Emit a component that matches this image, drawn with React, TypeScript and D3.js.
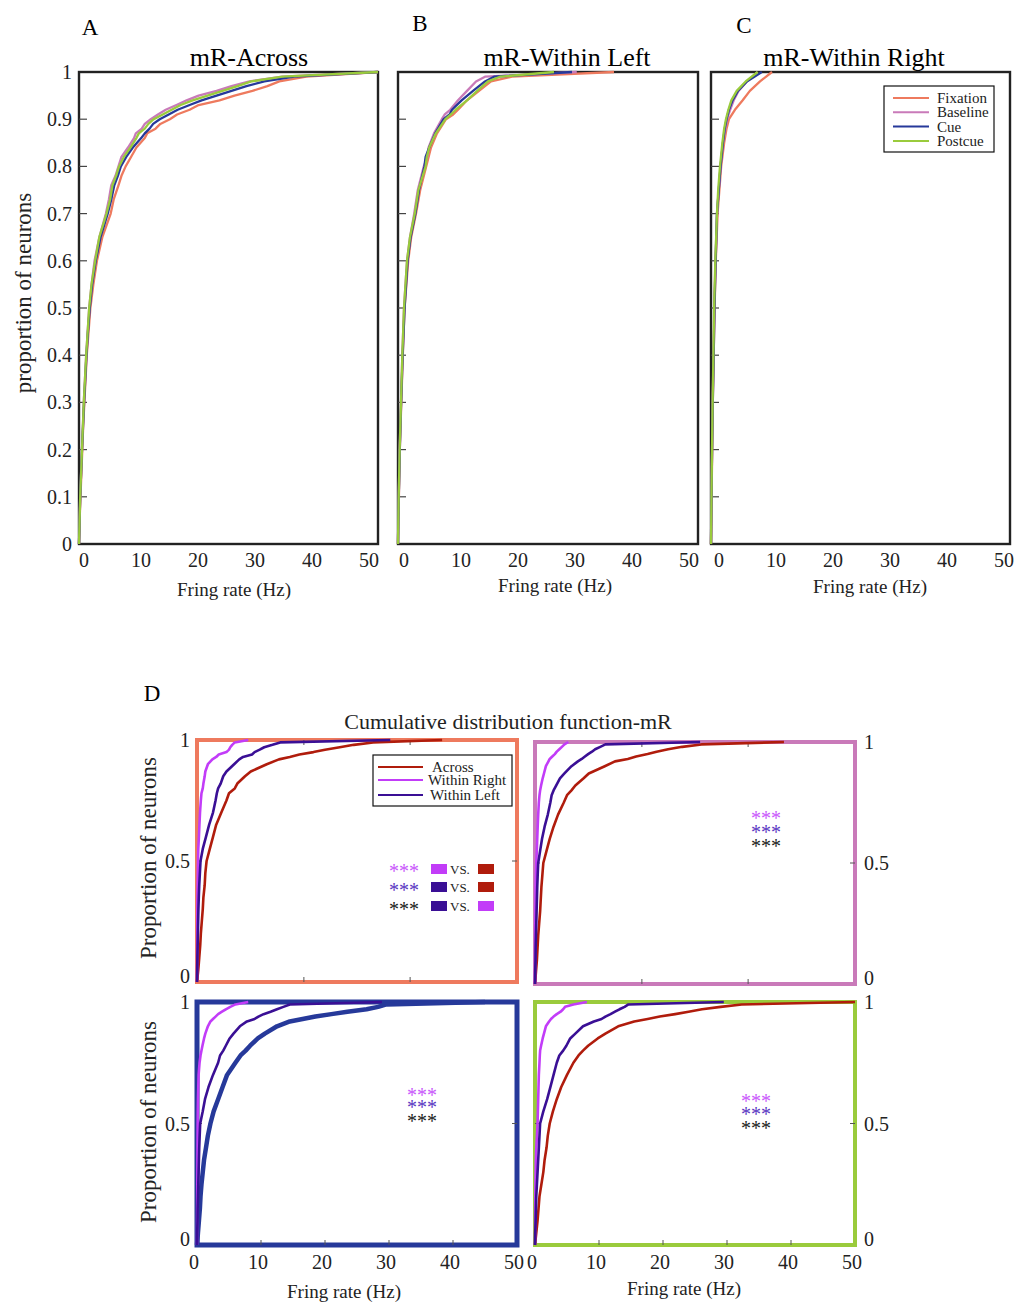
import React from 'react';
import * as d3 from 'd3';

// ---------- shared labels ----------
const rateTicks = [0, 10, 20, 30, 40, 50];
const propTicks = [0, 0.1, 0.2, 0.3, 0.4, 0.5, 0.6, 0.7, 0.8, 0.9, 1];
const propTickLabels = ['0', '0.1', '0.2', '0.3', '0.4', '0.5', '0.6', '0.7', '0.8', '0.9', '1'];
const epochNames = ['Fixation', 'Baseline', 'Cue', 'Postcue'];
const epochColors = ['#ee7a5e', '#c97ab9', '#26399a', '#9acb3c'];
const groupNames = ['Across', 'Within Right', 'Within Left'];
const groupColors = ['#b01c0c', '#c23cf8', '#3a0f95'];
const dPropTicks = [0, 0.5, 1];
const dPropTickLabels = ['0', '0.5', '1'];
const dTopRowTicks = [16.7, 33.3];
const dBottomRowTicks = [10, 20, 30, 40];

// ---------- panel A: mR-Across (rate values at cumulative proportions) ----------
const probsA = [0, 0.05, 0.1, 0.15, 0.2, 0.25, 0.3, 0.35, 0.4, 0.45, 0.5, 0.55, 0.6, 0.65, 0.7, 0.73, 0.76, 0.78, 0.8, 0.82, 0.84, 0.86, 0.87, 0.88, 0.89, 0.9, 0.91, 0.92, 0.93, 0.94, 0.95, 0.96, 0.97, 0.98, 0.99, 1];
const acrossFixation = [0, 0.1, 0.25, 0.4, 0.55, 0.7, 0.9, 1.1, 1.3, 1.6, 1.9, 2.4, 3.0, 3.9, 5.3, 5.8, 6.6, 7.1, 7.8, 8.7, 9.6, 11.0, 11.4, 12.8, 13.6, 15.2, 16.4, 18.5, 20.0, 23.5, 26.0, 29.0, 31.5, 33.5, 38, 50];
const acrossBaseline = [0, 0.1, 0.2, 0.35, 0.5, 0.65, 0.8, 1.0, 1.2, 1.45, 1.7, 2.1, 2.6, 3.4, 4.5, 5.0, 5.4, 6.1, 6.6, 7.1, 8.2, 9.2, 9.5, 10.5, 11.0, 12.0, 13.2, 14.5, 16.3, 18.0, 20.0, 23.0, 25.5, 28.5, 34, 50];
const acrossCue = [0, 0.1, 0.2, 0.35, 0.5, 0.68, 0.85, 1.05, 1.25, 1.5, 1.8, 2.2, 2.8, 3.6, 4.8, 5.4, 5.9, 6.5, 7.0, 7.9, 9.0, 10.4, 11.0, 11.8, 12.4, 13.5, 15.0, 16.5, 18.5, 20.5, 23.0, 25.5, 28.0, 31.0, 36, 50];
const acrossPostcue = [0, 0.1, 0.2, 0.35, 0.5, 0.65, 0.8, 1.0, 1.2, 1.45, 1.7, 2.1, 2.7, 3.4, 4.6, 5.2, 5.6, 6.2, 6.7, 7.5, 8.6, 9.6, 10.0, 11.0, 11.6, 12.5, 14.0, 15.5, 17.0, 19.0, 21.5, 24.0, 26.5, 28.8, 34, 50];

// ---------- panel B: mR-Within Left ----------
const probsB = [0, 0.05, 0.1, 0.2, 0.3, 0.4, 0.5, 0.6, 0.65, 0.7, 0.75, 0.8, 0.82, 0.84, 0.87, 0.9, 0.91, 0.92, 0.94, 0.96, 0.98, 0.99, 1];
const leftFixation = [0, 0.05, 0.15, 0.3, 0.55, 0.8, 1.1, 1.7, 2.2, 3.0, 3.7, 4.7, 5.1, 5.5, 6.5, 8.0, 9.2, 10, 11.5, 13.5, 15.5, 19, 36];
const leftBaseline = [0, 0.05, 0.12, 0.28, 0.5, 0.72, 1.0, 1.5, 2.0, 2.7, 3.3, 4.3, 4.9, 5.1, 6.0, 7.3, 7.8, 8.7, 10, 11.5, 13.0, 14.5, 29.8];
const leftCue = [0, 0.05, 0.13, 0.3, 0.52, 0.78, 1.1, 1.6, 2.1, 2.9, 3.5, 4.4, 4.6, 5.2, 6.2, 7.6, 8.6, 9.0, 10.6, 12.5, 14.5, 16, 29];
const leftPostcue = [0, 0.05, 0.12, 0.28, 0.5, 0.72, 1.0, 1.5, 2.0, 2.8, 3.4, 4.6, 4.8, 5.2, 6.3, 7.9, 8.8, 9.6, 11.5, 13.2, 15.0, 17.0, 26];

// ---------- panel C: mR-Within Right ----------
const probsC = [0, 0.1, 0.2, 0.3, 0.4, 0.5, 0.6, 0.7, 0.75, 0.8, 0.85, 0.88, 0.9, 0.92, 0.94, 0.96, 0.98, 1];
const rightFixation = [0, 0.1, 0.2, 0.3, 0.45, 0.6, 0.8, 1.1, 1.4, 1.7, 2.2, 2.6, 3.0, 4.0, 5.3, 6.5, 8.2, 10.2];
const rightBaseline = [0, 0.08, 0.18, 0.28, 0.42, 0.55, 0.75, 1.0, 1.3, 1.6, 2.0, 2.4, 2.7, 3.2, 3.8, 4.6, 6.0, 7.8];
const rightCue = [0, 0.08, 0.18, 0.3, 0.45, 0.58, 0.78, 1.0, 1.3, 1.6, 2.0, 2.3, 2.6, 3.0, 3.6, 4.5, 6.0, 8.5];
const rightPostcue = [0, 0.08, 0.17, 0.27, 0.4, 0.52, 0.72, 1.0, 1.2, 1.5, 1.9, 2.2, 2.5, 2.9, 3.4, 4.3, 5.8, 7.8];

// ---------- panel D: per epoch, Across / Within Right / Within Left ----------
const probsD = [0, 0.05, 0.1, 0.15, 0.2, 0.25, 0.3, 0.35, 0.4, 0.45, 0.5, 0.55, 0.6, 0.65, 0.7, 0.75, 0.78, 0.8, 0.82, 0.85, 0.87, 0.9, 0.92, 0.93, 0.94, 0.95, 0.96, 0.97, 0.98, 0.99, 1];
const dFixAcross = [0, 0.2, 0.35, 0.5, 0.6, 0.75, 0.9, 1.0, 1.2, 1.3, 1.5, 2.0, 2.5, 3.0, 3.8, 4.6, 5.0, 5.9, 6.3, 7.5, 8.4, 10.9, 12.8, 14.5, 16.0, 18.2, 20.0, 22.3, 24.5, 27.5, 38.3];
const dFixRight = [0, 0.01, 0.02, 0.03, 0.04, 0.05, 0.06, 0.08, 0.1, 0.13, 0.16, 0.2, 0.3, 0.38, 0.47, 0.6, 0.7, 0.9, 1.0, 1.2, 1.3, 1.7, 2.4, 3.0, 3.4, 4.6, 5.0, 5.2, 5.5, 5.9, 8.0];
const dFixLeft = [0, 0.03, 0.06, 0.1, 0.14, 0.18, 0.22, 0.28, 0.35, 0.45, 0.55, 0.9, 1.4, 1.9, 2.5, 2.9, 3.1, 3.3, 3.7, 4.1, 4.6, 5.8, 6.6, 7.2, 8.6, 9.0, 9.8, 10.5, 11.8, 13, 30.2];
const dBaseAcross = [0, 0.15, 0.3, 0.4, 0.5, 0.65, 0.8, 0.9, 1.0, 1.15, 1.3, 1.8, 2.3, 2.9, 3.6, 4.5, 5.0, 5.7, 6.3, 7.6, 8.4, 10.9, 12.5, 14.5, 15.8, 17.6, 19.0, 20.8, 23.0, 26, 38.9];
const dBaseRight = [0, 0.01, 0.02, 0.03, 0.04, 0.05, 0.07, 0.09, 0.1, 0.15, 0.2, 0.28, 0.35, 0.42, 0.5, 0.6, 0.7, 0.8, 0.95, 1.2, 1.4, 1.7, 2.1, 2.3, 2.7, 3.1, 3.4, 3.8, 4.2, 4.6, 5.2];
const dBaseLeft = [0, 0.03, 0.08, 0.1, 0.15, 0.2, 0.25, 0.3, 0.35, 0.42, 0.5, 0.8, 1.1, 1.5, 2.0, 2.4, 2.6, 2.9, 3.3, 3.9, 4.6, 5.7, 6.7, 7.3, 7.8, 8.3, 8.9, 9.4, 10.2, 11, 25.8];
const dCueAcross = [0, 0.15, 0.3, 0.45, 0.55, 0.7, 0.9, 1.1, 1.4, 1.7, 2.1, 2.6, 3.3, 4.0, 4.7, 6.0, 6.8, 7.6, 8.3, 9.5, 10.6, 12.5, 14.5, 16.5, 18.5, 21, 23.5, 26.5, 28.3, 29.6, 45];
const dCueRight = [0, 0.01, 0.02, 0.03, 0.04, 0.05, 0.06, 0.07, 0.08, 0.09, 0.1, 0.12, 0.15, 0.2, 0.25, 0.4, 0.55, 0.7, 0.85, 1.1, 1.3, 1.7, 2.1, 2.5, 2.9, 3.3, 3.9, 4.5, 5.2, 6.0, 8.0];
const dCueLeft = [0, 0.03, 0.08, 0.1, 0.15, 0.2, 0.25, 0.3, 0.35, 0.42, 0.5, 0.9, 1.25, 1.8, 2.5, 3.3, 3.6, 4.1, 4.5, 5.1, 5.7, 6.7, 7.8, 9.0, 9.6, 10.4, 11.5, 12.5, 13.5, 14.5, 28.9];
const dPostAcross = [0, 0.2, 0.4, 0.55, 0.7, 1.0, 1.3, 1.5, 1.8, 2.0, 2.3, 2.8, 3.4, 4.1, 5.0, 6.0, 6.8, 7.5, 8.3, 9.8, 11.0, 13, 15.5, 17.6, 19.5, 21.9, 24, 26.1, 29, 32.3, 50];
const dPostRight = [0, 0.01, 0.02, 0.03, 0.05, 0.07, 0.1, 0.13, 0.2, 0.3, 0.4, 0.45, 0.5, 0.55, 0.6, 0.7, 0.75, 0.8, 0.95, 1.2, 1.4, 1.7, 2.2, 2.5, 2.9, 3.4, 4.0, 4.4, 4.7, 6.0, 8.1];
const dPostLeft = [0, 0.03, 0.1, 0.15, 0.2, 0.3, 0.4, 0.5, 0.6, 0.7, 0.8, 1.3, 1.9, 2.4, 2.9, 3.4, 3.8, 4.4, 4.9, 5.5, 6.3, 7.5, 9.2, 10.4, 11.0, 11.8, 12.5, 13.2, 14.0, 14.6, 29.5];

const FONT = "'Liberation Serif', 'Times New Roman', serif";

type TopProps = {
  left: number; right: number; top: number; bottom: number;
  title: string; titleX: number; letter: string; letterX: number; letterY: number;
  probs: number[]; series: number[][];
  labelLeft: number; labelRight: number; xTitleX: number; xTitleY: number;
  yLabels?: boolean; legend?: boolean;
};

function TopPanel(p: TopProps) {
  const x = d3.scaleLinear().domain([0, 50]).range([p.left, p.right]);
  const xl = d3.scaleLinear().domain([0, 50]).range([p.labelLeft, p.labelRight]);
  const y = d3.scaleLinear().domain([0, 1]).range([p.bottom, p.top]);
  const line = d3.line<[number, number]>().x(d => x(d[0])).y(d => y(d[1]));
  return (
    <g>
      <text x={p.letterX} y={p.letterY} fontSize={23} textAnchor="middle" fontFamily={FONT}>{p.letter}</text>
      <text x={p.titleX} y={p.top - 6} fontSize={26} textAnchor="middle" fontFamily={FONT}>{p.title}</text>
      <rect x={p.left} y={p.top} width={p.right - p.left} height={p.bottom - p.top} fill="none" stroke="#222" strokeWidth={2.4} />
      {propTicks.slice(1, -1).map(t => (
        <line key={t} x1={p.left} x2={p.left + 8} y1={y(t)} y2={y(t)} stroke="#444" strokeWidth={1.2} />
      ))}
      {p.yLabels && propTicks.map((t, i) => (
        <text key={t} x={p.left - 7} y={y(t) + 7} fontSize={20} textAnchor="end" fontFamily={FONT} fill="#222">{propTickLabels[i]}</text>
      ))}
      {rateTicks.map(t => (
        <text key={t} x={xl(t)} y={p.bottom + 23} fontSize={20} textAnchor="middle" fontFamily={FONT} fill="#222">{t}</text>
      ))}
      <text x={p.xTitleX} y={p.xTitleY} fontSize={19} textAnchor="middle" fontFamily={FONT} fill="#222">Fring rate (Hz)</text>
      {p.series.map((s, i) => (
        <path key={i} d={line(s.map((r, j) => [r, p.probs[j]] as [number, number])) || ''} fill="none" stroke={epochColors[i]} strokeWidth={2.3} strokeLinejoin="round" />
      ))}
      {p.legend && (
        <g>
          <rect x={884} y={86} width={110} height={66} fill="white" stroke="#111" strokeWidth={1.2} />
          {epochNames.map((n, i) => {
            const yy = 98 + i * 14.3;
            return (
              <g key={n}>
                <line x1={893} x2={929} y1={yy} y2={yy} stroke={epochColors[i]} strokeWidth={2} />
                <text x={937} y={yy + 5} fontSize={15} fontFamily={FONT} fill="#222">{n}</text>
              </g>
            );
          })}
        </g>
      )}
    </g>
  );
}

type DProps = {
  left: number; right: number; top: number; bottom: number;
  frameColor: string; frameWidth: number;
  series: number[][]; colors: string[]; widths: number[];
  yLabelSide: 'left' | 'right'; xTicks: number[]; xLabels: boolean;
  starX: number; starY: number[];
};

const starColors = ['#c858fb', '#5a36c2', '#1a1a1a'];

function DPanel(p: DProps) {
  const x = d3.scaleLinear().domain([0, 50]).range([p.left, p.right]);
  const y = d3.scaleLinear().domain([0, 1]).range([p.bottom, p.top]);
  const line = d3.line<[number, number]>().x(d => x(d[0])).y(d => y(d[1]));
  return (
    <g>
      <rect x={p.left} y={p.top} width={p.right - p.left} height={p.bottom - p.top} fill="none" stroke={p.frameColor} strokeWidth={p.frameWidth} />
      {p.xTicks.map(t => (
        <g key={t}>
          <line x1={x(t)} x2={x(t)} y1={p.bottom} y2={p.bottom - 5} stroke="#555" strokeWidth={1} />
          {!p.xLabels && <line x1={x(t)} x2={x(t)} y1={p.top} y2={p.top + 5} stroke="#555" strokeWidth={1} />}
        </g>
      ))}
      <line x1={p.left} x2={p.left + 5} y1={y(0.5)} y2={y(0.5)} stroke="#555" strokeWidth={1} />
      <line x1={p.right} x2={p.right - 5} y1={y(0.5)} y2={y(0.5)} stroke="#555" strokeWidth={1} />
      {dPropTicks.map((t, i) => (
        <text key={t}
          x={p.yLabelSide === 'left' ? p.left - 7 : p.right + 9}
          y={y(t) + 7 - (t === 0 ? 6 : 0)}
          fontSize={20} textAnchor={p.yLabelSide === 'left' ? 'end' : 'start'} fontFamily={FONT} fill="#222">{dPropTickLabels[i]}</text>
      ))}
      {p.xLabels && rateTicks.map(t => (
        <text key={t} x={x(t) - 3} y={p.bottom + 24} fontSize={20} textAnchor="middle" fontFamily={FONT} fill="#222">{t}</text>
      ))}
      {p.series.map((s, i) => (
        <path key={i} d={line(s.map((r, j) => [r, probsD[j]] as [number, number])) || ''} fill="none" stroke={p.colors[i]} strokeWidth={p.widths[i]} strokeLinejoin="round" />
      ))}
      {p.starY.map((sy, i) => (
        <text key={i} x={p.starX} y={sy + 10} fontSize={20} textAnchor="middle" fontFamily={FONT} fill={starColors[i]}>***</text>
      ))}
    </g>
  );
}

export default function App() {
  const sigRows = [
    { a: groupColors[1], b: groupColors[0] },
    { a: groupColors[2], b: groupColors[0] },
    { a: groupColors[2], b: groupColors[1] },
  ];
  return (
    <svg width={1017} height={1302} style={{ position: 'absolute', left: 0, top: 0, background: 'white' }}>
      <rect x={0} y={0} width={1017} height={1302} fill="white" />
      <TopPanel left={79} right={378} top={72} bottom={544} title="mR-Across" titleX={249} letter="A" letterX={90} letterY={35}
        probs={probsA} series={[acrossFixation, acrossBaseline, acrossCue, acrossPostcue]}
        labelLeft={84} labelRight={369} xTitleX={234} xTitleY={596} yLabels />
      <TopPanel left={398} right={698} top={72} bottom={544} title="mR-Within Left" titleX={567} letter="B" letterX={420} letterY={31}
        probs={probsB} series={[leftFixation, leftBaseline, leftCue, leftPostcue]}
        labelLeft={404} labelRight={689} xTitleX={555} xTitleY={592} />
      <TopPanel left={711} right={1010} top={72} bottom={544} title="mR-Within Right" titleX={854} letter="C" letterX={744} letterY={33}
        probs={probsC} series={[rightFixation, rightBaseline, rightCue, rightPostcue]}
        labelLeft={719} labelRight={1004} xTitleX={870} xTitleY={593} legend />
      <text transform="translate(31,293) rotate(-90)" fontSize={23} textAnchor="middle" fontFamily={FONT} fill="#222">proportion of neurons</text>

      {/* Panel D */}
      <text x={152} y={701} fontSize={23} textAnchor="middle" fontFamily={FONT}>D</text>
      <text x={508} y={729} fontSize={22} textAnchor="middle" fontFamily={FONT} fill="#222">Cumulative distribution function-mR</text>
      <text transform="translate(156,858) rotate(-90)" fontSize={23} textAnchor="middle" fontFamily={FONT} fill="#222">Proportion of neurons</text>
      <text transform="translate(156,1122) rotate(-90)" fontSize={23} textAnchor="middle" fontFamily={FONT} fill="#222">Proportion of neurons</text>

      <DPanel left={197} right={517} top={740} bottom={982} frameColor={epochColors[0]} frameWidth={4}
        series={[dFixAcross, dFixRight, dFixLeft]} colors={groupColors} widths={[2.6, 2.6, 2.6]}
        yLabelSide="left" xTicks={dTopRowTicks} xLabels={false} starX={404} starY={[868, 887, 906]} />
      <DPanel left={535} right={855} top={742} bottom={984} frameColor={epochColors[1]} frameWidth={4}
        series={[dBaseAcross, dBaseRight, dBaseLeft]} colors={groupColors} widths={[2.6, 2.6, 2.6]}
        yLabelSide="right" xTicks={dTopRowTicks} xLabels={false} starX={766} starY={[815, 829, 843]} />
      <DPanel left={197} right={517} top={1002} bottom={1245} frameColor={epochColors[2]} frameWidth={5}
        series={[dCueAcross, dCueRight, dCueLeft]} colors={[epochColors[2], groupColors[1], groupColors[2]]} widths={[4.5, 2.6, 2.6]}
        yLabelSide="left" xTicks={dBottomRowTicks} xLabels starX={422} starY={[1092, 1104, 1118]} />
      <DPanel left={535} right={855} top={1002} bottom={1245} frameColor={epochColors[3]} frameWidth={4}
        series={[dPostAcross, dPostRight, dPostLeft]} colors={groupColors} widths={[2.6, 2.6, 2.6]}
        yLabelSide="right" xTicks={dBottomRowTicks} xLabels starX={756} starY={[1098, 1111, 1125]} />

      <text x={344} y={1298} fontSize={19} textAnchor="middle" fontFamily={FONT} fill="#222">Fring rate (Hz)</text>
      <text x={684} y={1295} fontSize={19} textAnchor="middle" fontFamily={FONT} fill="#222">Fring rate (Hz)</text>

      {/* D legend */}
      <rect x={373} y={755} width={139} height={51} fill="white" stroke="#111" strokeWidth={1.2} />
      {groupNames.map((n, i) => {
        const yy = [767, 780, 795][i];
        return (
          <g key={n}>
            <line x1={378} x2={423} y1={yy} y2={yy} stroke={groupColors[i]} strokeWidth={2} />
            <text x={[432, 428, 430][i]} y={yy + 5} fontSize={15} fontFamily={FONT} fill="#222">{n}</text>
          </g>
        );
      })}
      {/* significance key */}
      {sigRows.map((r, i) => {
        const yy = [869, 887, 906][i];
        return (
          <g key={i}>
            <rect x={431} y={yy - 5} width={16} height={10} fill={r.a} />
            <text x={450} y={yy + 5} fontSize={13} fontFamily={FONT} fill="#222">VS.</text>
            <rect x={478} y={yy - 5} width={16} height={10} fill={r.b} />
          </g>
        );
      })}
    </svg>
  );
}
